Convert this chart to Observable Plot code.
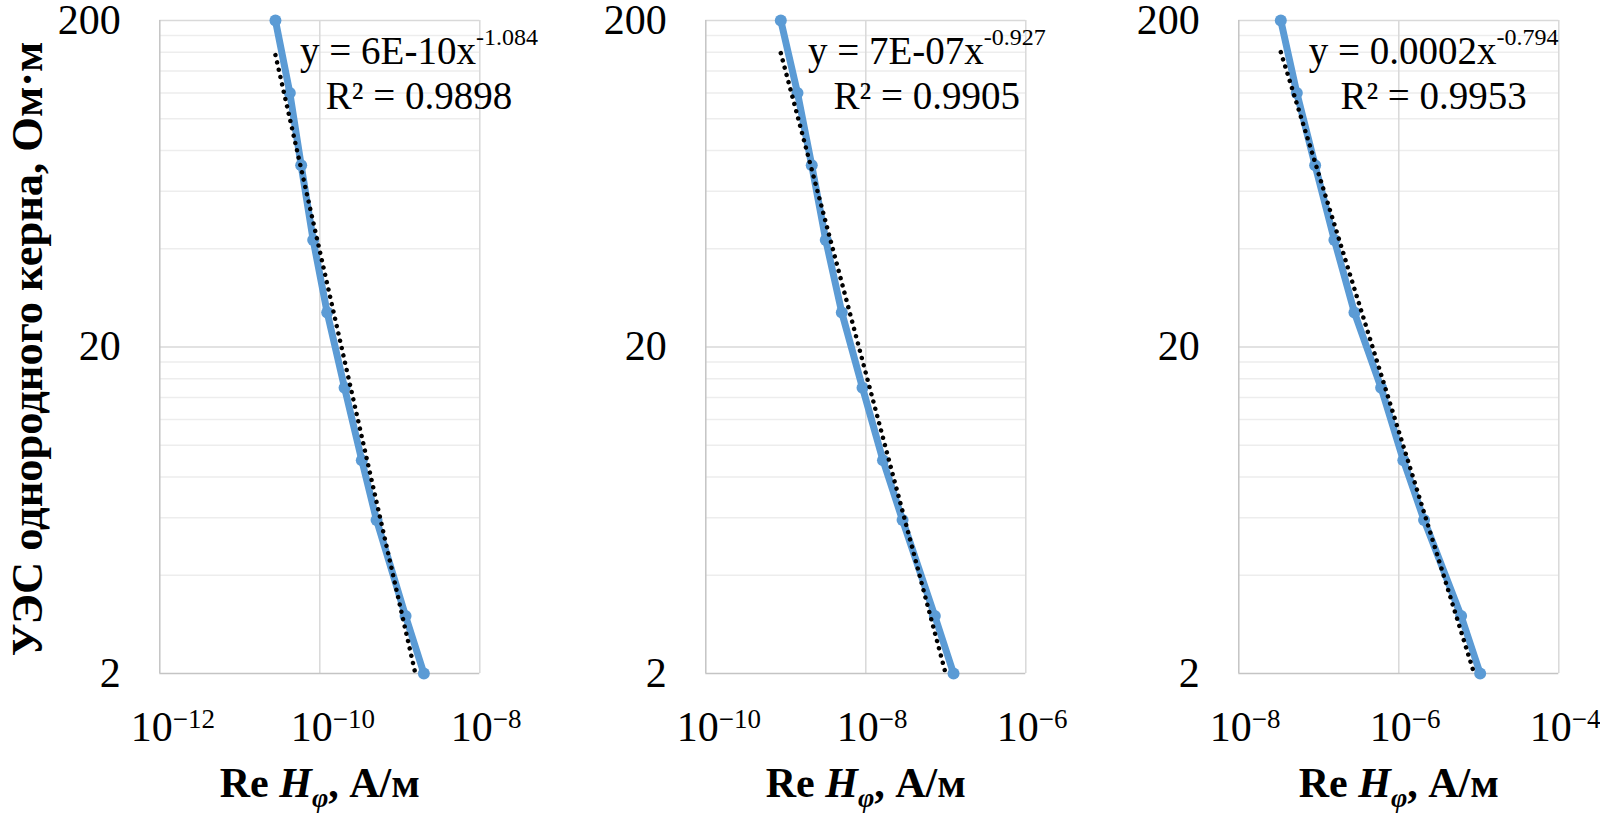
<!DOCTYPE html>
<html><head><meta charset="utf-8">
<script src="https://cdn.jsdelivr.net/npm/d3@7"></script>
<script src="https://cdn.jsdelivr.net/npm/@observablehq/plot@0.6"></script>
<style>
body{margin:0;background:#fff;}
#wrap{position:relative;width:1600px;height:820px;overflow:hidden;background:#fff;}
#wrap svg{position:absolute;top:0;}
#wrap svg, #wrap svg text, #wrap svg g{font-family:'Liberation Serif','Times New Roman',serif !important;}
</style></head><body><div id="wrap"></div>
<script>
// ---- data ----
const resistivity = [200, 120, 72, 42.5, 25.5, 15, 9, 5.9, 3, 2];
const hPhi1 = [2.79e-11, 4.22e-11, 5.85e-11, 8.27e-11, 1.237e-10, 2.04e-10, 3.35e-10, 5.12e-10, 1.18e-9, 2.0e-9];
const hPhi2 = [8.66e-10, 1.40e-9, 2.11e-9, 3.16e-9, 5.01e-9, 9.1e-9, 1.64e-8, 2.88e-8, 7.29e-8, 1.25e-7];
const hPhi3 = [3.35e-8, 5.31e-8, 9.0e-8, 1.567e-7, 2.79e-7, 6.01e-7, 1.14e-6, 2.07e-6, 6.01e-6, 1.04e-5];
const yTicks = [2, 20, 200];
const yMinorTicks = [4, 6, 8, 10, 12, 14, 16, 18, 40, 60, 80, 100, 120, 140, 160, 180];
const xTicks1 = [1e-12, 1e-10, 1e-8];
const xTicks2 = [1e-10, 1e-8, 1e-6];
const xTicks3 = [1e-8, 1e-6, 1e-4];
const xTickLabels1 = ["10^−12", "10^−10", "10^−8"];
const xTickLabels2 = ["10^−10", "10^−8", "10^−6"];
const xTickLabels3 = ["10^−8", "10^−6", "10^−4"];
const equations = ["y = 6E-10x^-1.084", "y = 7E-07x^-0.927", "y = 0.0002x^-0.794"];
const r2Labels = ["R² = 0.9898", "R² = 0.9905", "R² = 0.9953"];
const yTitle = "УЭС однородного керна, Ом·м";
const xTitle = "Re H_φ, А/м";

// ---- layout / style ----
const FONT = "Liberation Serif";
const BLUE = "#5B9BD5";
const ML = 159.3, MT = 20, PW = 320, PB = 673;
const plotLefts = [159.3, 705, 1238.7];
const eqDx = [259.2, 221, 194.8];

const series = [hPhi1, hPhi2, hPhi3];
const xTicksAll = [xTicks1, xTicks2, xTicks3];
const xLabelsAll = [xTickLabels1, xTickLabels2, xTickLabels3];

function setRich(el, parts) {
  while (el.firstChild) el.removeChild(el.firstChild);
  for (const p of parts) {
    const ts = document.createElementNS("http://www.w3.org/2000/svg", "tspan");
    ts.textContent = p.t;
    if (p.dy) ts.setAttribute("dy", p.dy);
    if (p.fs) ts.setAttribute("font-size", p.fs);
    if (p.fi) ts.setAttribute("font-style", "italic");
    el.appendChild(ts);
  }
}

const wrap = document.getElementById("wrap");

series.forEach((xs, i) => {
  const data = xs.map((x, j) => ({x, y: resistivity[j]}));
  // power-law trend line (least squares in log-log space)
  const lx = xs.map(Math.log10), ly = resistivity.map(Math.log10);
  const mx = d3.mean(lx), my = d3.mean(ly);
  const b = d3.sum(lx.map((v, j) => (v - mx) * (ly[j] - my))) / d3.sum(lx.map(v => (v - mx) ** 2));
  const a = my - b * mx;
  const trend = [d3.min(xs), d3.max(xs)].map(x => ({x, y: 10 ** (a + b * Math.log10(x))}));
  const ticks = xTicksAll[i];
  const labMap = new Map(ticks.map((t, j) => [t, xLabelsAll[i][j]]));

  const marks = [
    Plot.ruleY(yMinorTicks, {stroke: "#ededed", strokeWidth: 1.5}),
    Plot.ruleY(yTicks.slice(1), {stroke: "#d9d9d9", strokeWidth: 1.5}),
    Plot.ruleX(ticks.slice(1), {stroke: "#d9d9d9", strokeWidth: 1.5}),
    Plot.ruleX([ticks[0]], {stroke: "#c4c4c4", strokeWidth: 1.5}),
    Plot.ruleY([yTicks[0]], {stroke: "#c4c4c4", strokeWidth: 1.5}),
    Plot.axisY({ticks: yTicks, tickFormat: d => String(d), tickSize: 0, tickPadding: 39, fontSize: 42, fontFamily: FONT, label: null}),
    Plot.axisX({ticks, tickFormat: d => labMap.get(d), tickSize: 0, tickPadding: 38, fontSize: 42, fontFamily: FONT, label: null, textAnchor: "start", dx: -29}),
    Plot.line(data, {x: "x", y: "y", stroke: BLUE, strokeWidth: 7, strokeLinejoin: "round"}),
    Plot.dot(data, {x: "x", y: "y", r: 6, fill: BLUE}),
    Plot.line(trend, {x: "x", y: "y", stroke: "#000", strokeWidth: 4.5, strokeDasharray: "0.01 7.5", strokeLinecap: "round", clip: true}),
    Plot.text([equations[i]], {text: d => d, frameAnchor: "top-left", textAnchor: "middle", lineAnchor: "bottom", dx: eqDx[i], dy: 43, fontSize: 39, fontFamily: FONT, fill: "#000"}),
    Plot.text([r2Labels[i]], {text: d => d, frameAnchor: "top-left", textAnchor: "middle", lineAnchor: "bottom", dx: eqDx[i], dy: 88, fontSize: 39, fontFamily: FONT, fill: "#000"}),
    Plot.text([xTitle], {text: d => d, frameAnchor: "bottom", textAnchor: "middle", lineAnchor: "bottom", dy: 123.7, fontSize: 42, fontWeight: "bold", fontFamily: FONT, fill: "#000"})
  ];
  if (i === 0) {
    marks.push(Plot.text([yTitle], {text: d => d, frameAnchor: "left", rotate: -90, textAnchor: "middle", lineAnchor: "bottom", dx: -117.6, dy: 2, fontSize: 44.5, fontWeight: "bold", fontFamily: FONT, fill: "#000"}));
  }

  const svg = Plot.plot({
    width: 500, height: 820,
    marginLeft: ML, marginRight: 500 - ML - PW, marginTop: MT, marginBottom: 820 - PB,
    x: {type: "log", domain: [ticks[0], ticks[2]]},
    y: {type: "log", domain: [yTicks[0], yTicks[2]]},
    style: {fontFamily: FONT, background: "transparent", color: "#000", overflow: "visible"},
    marks
  });
  svg.style.left = (plotLefts[i] - ML) + "px";
  wrap.appendChild(svg);

  // superscripts / subscripts as real text tspans
  svg.querySelectorAll("text").forEach(el => {
    const s = el.textContent;
    if (s === xTitle) {
      setRich(el, [{t: "Re "}, {t: "H", fi: true}, {t: "φ", fi: true, fs: 28, dy: 10}, {t: ", А/м", dy: -10}]);
    } else if (s.startsWith("10^")) {
      const [base, sup] = s.split("^");
      el.setAttribute("text-anchor", "start");
      setRich(el, [{t: base}, {t: sup, dy: -13, fs: 27}]);
    } else if (s.includes("^")) {
      const [base, sup] = s.split("^");
      setRich(el, [{t: base}, {t: sup, dy: -19, fs: 24}]);
    }
  });
});
</script></body></html>
